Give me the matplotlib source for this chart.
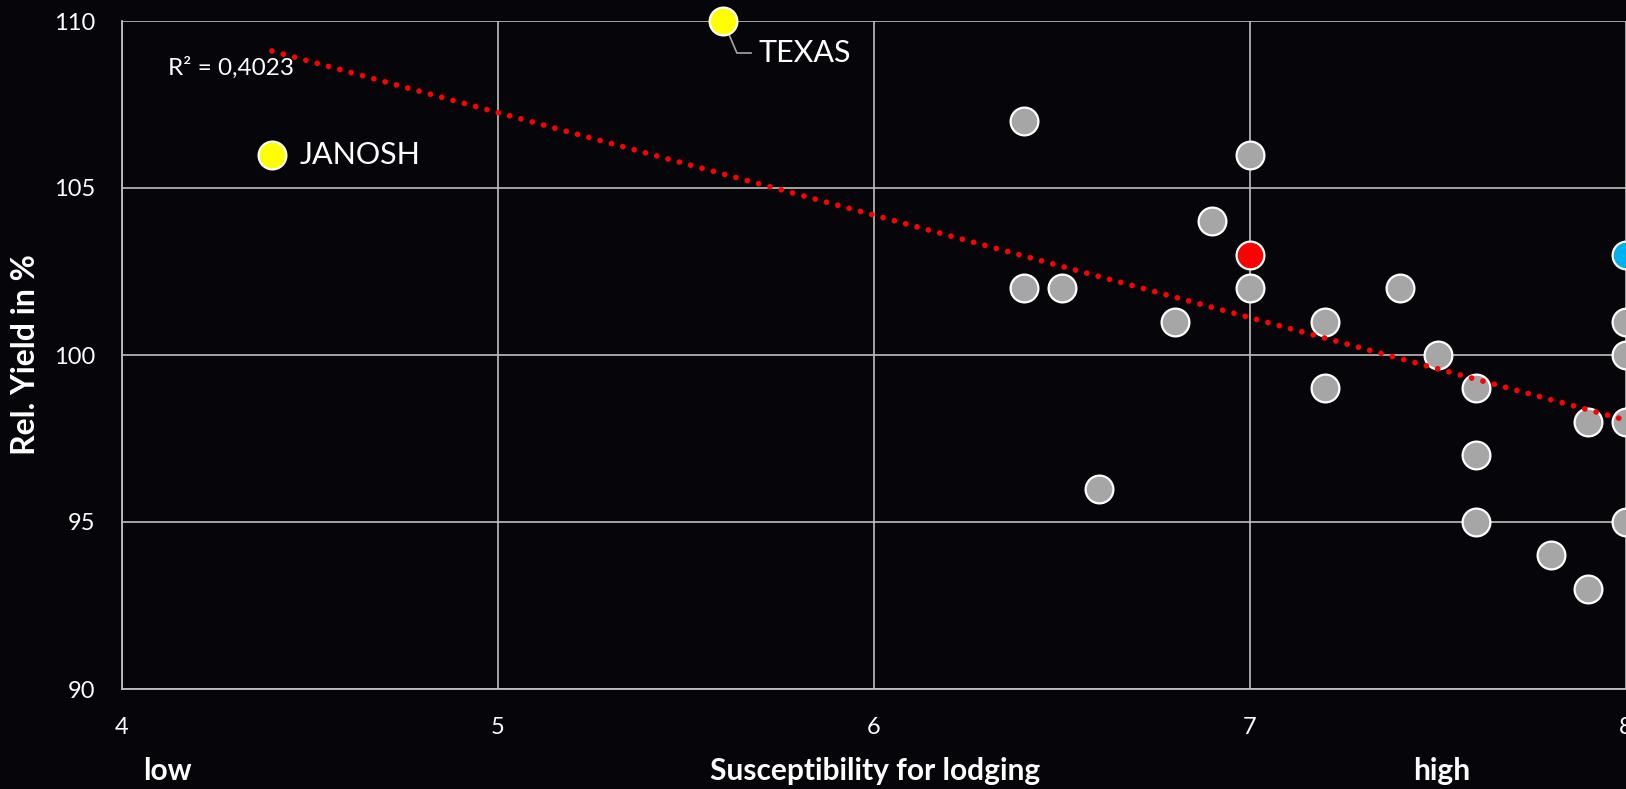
import numpy as np
import matplotlib
matplotlib.use('Agg')
import matplotlib.pyplot as plt

# lodging susceptibility (x) vs relative yield in % (y)
grey_x = [6.4, 6.4, 6.5, 6.6, 6.8, 6.9, 7.0, 7.0, 7.2, 7.2, 7.4, 7.5,
          7.6, 7.6, 7.6, 7.8, 7.9, 7.9, 8.0, 8.0, 8.0, 8.0]
grey_y = [107, 102, 102, 96, 101, 104, 106, 102, 101, 99, 102, 100,
          99, 97, 95, 94, 98, 93, 101, 100, 98, 95]
yellow_x = [4.4, 5.6]
yellow_y = [106, 110]
yellow_names = ['JANOSH', 'TEXAS']
red_x, red_y = [7.0], [103]
blue_x, blue_y = [8.0], [103]

# linear trend as shown in the chart
trend_x = np.array([4.4, 8.0])
TREND_SLOPE = -3.07
TREND_INTERCEPT = 122.61
R2_LABEL = 'R² = 0,4023'

xticks = [4, 5, 6, 7, 8]
yticks = [90, 95, 100, 105, 110]

BG = '#05050a'
GRID = '#bfbfbf'
plt.rcParams['font.family'] = ['Lato', 'DejaVu Sans']

W, H = 1626, 789
fig = plt.figure(figsize=(W / 100, H / 100), dpi=100, facecolor=BG)
ax = fig.add_axes([121.5 / W, (H - 689) / H, 1 - 121.5 / W, 668 / H])
ax.set_facecolor(BG)

ax.set_xlim(4, 8)
ax.set_ylim(90, 110)
ax.set_xticks(xticks)
ax.set_yticks(yticks)
ax.grid(True, color=GRID, lw=1.2)
ax.set_axisbelow(True)
for s in ['top', 'right']:
    ax.spines[s].set_visible(False)
for s in ['left', 'bottom']:
    ax.spines[s].set_color(GRID)
    ax.spines[s].set_linewidth(1.3)
ax.tick_params(axis='both', length=0, colors='white', labelsize=17)
ax.tick_params(axis='x', pad=20)
ax.tick_params(axis='y', pad=19)

mk = dict(s=400, edgecolors='white', linewidths=1.6, clip_on=False, zorder=3)
ax.scatter(grey_x, grey_y, color='#a6a6a6', **mk)
ax.scatter(yellow_x, yellow_y, color='#ffff00', **mk)
ax.scatter(red_x, red_y, color='#ff0000', **mk)
ax.scatter(blue_x, blue_y, color='#00b0f0', **mk)

ax.plot(trend_x, TREND_SLOPE * trend_x + TREND_INTERCEPT, color='#ff0000',
        lw=4.1, ls=(0, (0.01, 2.05)), dash_capstyle='round', zorder=4,
        clip_on=False)
ax.text(4.124, 108.6, R2_LABEL, color='white', fontsize=17.5, va='center', ha='left')

# variety labels
ax.annotate(yellow_names[0], (yellow_x[0], yellow_y[0]), xytext=(28, 0),
            textcoords='offset pixels', color='white', fontsize=22,
            va='center', ha='left')
ax.annotate(yellow_names[1], (yellow_x[1], yellow_y[1]), xytext=(35, -32),
            textcoords='offset pixels', color='white', fontsize=22,
            va='center', ha='left', zorder=2,
            arrowprops=dict(arrowstyle='-', color='#a6a6a6', lw=1.2,
                            connectionstyle='angle,angleA=0,angleB=-67',
                            relpos=(0, 0.5), patchA=None, shrinkA=5, shrinkB=0))

fig.text(26 / W, (H - 355) / H, 'Rel. Yield in %', rotation=90, color='white',
         fontsize=23, fontweight='bold', ha='center', va='center')
fig.text(167.5 / W, (H - 780) / H, 'low', color='white', fontsize=21.5,
         fontweight='bold', ha='center', va='baseline')
fig.text(875 / W, (H - 780) / H, 'Susceptibility for lodging', color='white',
         fontsize=21.5, fontweight='bold', ha='center', va='baseline')
fig.text(1442 / W, (H - 780) / H, 'high', color='white', fontsize=21.5,
         fontweight='bold', ha='center', va='baseline')

fig.savefig('out.png', dpi=100, facecolor=BG)
